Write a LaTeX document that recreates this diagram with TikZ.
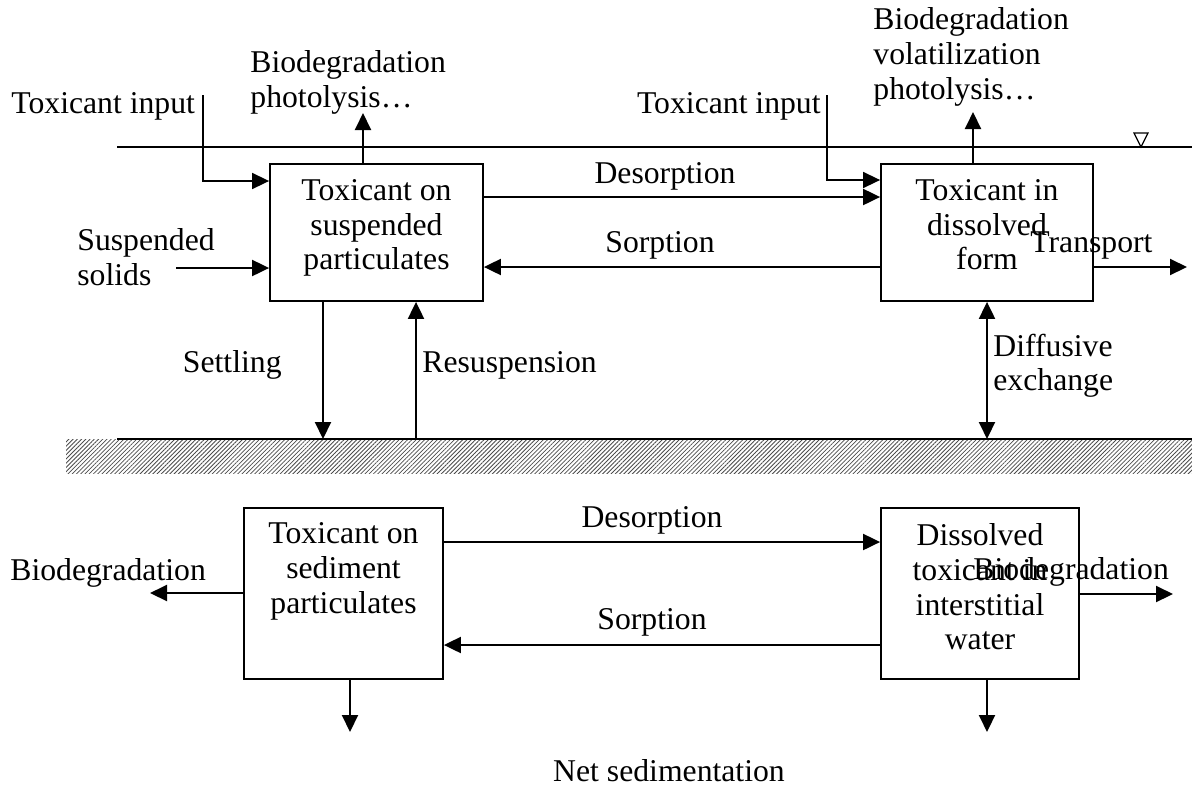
\documentclass[tikz,border=0pt]{standalone}
\usepackage{fontspec}
\setmainfont{Liberation Serif}
\usetikzlibrary{arrows.meta,patterns.meta}

\begin{document}
\begin{tikzpicture}[x=0.5pt,y=-0.5pt,
    font=\fontsize{15.85}{17.3}\selectfont,
    box/.style={draw, line width=0.9pt, inner sep=0pt},
    boxtext/.style={align=center, anchor=north, inner sep=0pt},
    lbl/.style={inner sep=0pt},
    arr/.style={line width=1pt, -{Triangle[length=8.5pt,width=8pt]}},
    feed/.style={line width=0.8pt, -{Triangle[length=8.5pt,width=8pt]}}]
    \useasboundingbox (0,0) rectangle (1192,788);

    % Water surface and sediment bed
    \draw[line width=0.6pt] (117,147) -- (1192,147);
    \draw[line width=0.6pt] (1134,133) -- (1148,133) -- (1141,147) -- cycle;
    \pattern[pattern={Lines[angle=45,distance=1.5pt,line width=0.4pt]}, pattern color=black!70] (66,439) rectangle (1192,473);
    \draw[line width=0.9pt] (117,439) -- (1192,439);
    \coordinate (bed) at (0,439);

    % Boxes in the water column
    \node[box, minimum width=106.5pt, minimum height=68.5pt] (susp) at (376.5,232.5) {};
    \node[boxtext] (susptxt) at (376.5,179.4) {Toxicant on\\suspended\\particulates};
    \node[box, minimum width=106pt, minimum height=68.5pt] (diss) at (987,232.5) {};
    \node[boxtext] (disstxt) at (987,179.4) {Toxicant in\\dissolved\\form};

    % Boxes in the sediment
    \node[box, minimum width=99.5pt, minimum height=85.5pt] (sedpart) at (343.5,593.5) {};
    \node[boxtext] (sedtxt) at (343.5,522.4) {Toxicant on\\sediment\\particulates};
    \node[box, minimum width=99pt, minimum height=85.5pt] (pore) at (980,593.5) {};
    \node[boxtext] (poretxt) at (980,523.4) {Dissolved\\toxicant in\\interstitial\\water};

    % Free ends
    \coordinate (tin1) at (203,95);
    \coordinate (tin2) at (827,95);
    \coordinate (ssin) at (176,268);
    \coordinate (up1) at (363,113);
    \coordinate (up2) at (973,112);
    \coordinate (trout) at (1187,267);
    \coordinate (bioL) at (150,593);
    \coordinate (bioR) at (1173,594);
    \coordinate (netL) at (350,732);
    \coordinate (netR) at (987,732);

    % Inputs and losses, water column
    \draw[feed] (tin1) |- (susp.west |- 0,181);
    \draw[arr] (ssin) -- (susp.west |- ssin);
    \draw[arr] (susp.north -| up1) -- (up1);
    \draw[feed] (tin2) |- (diss.west |- 0,180);
    \draw[arr] (diss.north -| up2) -- (up2);
    \draw[arr] (diss.east |- trout) -- (trout);

    % Exchange between the boxes
    \draw[arr] (susp.east |- 0,197) -- (diss.west |- 0,197);
    \draw[arr] (diss.west |- 0,267) -- (susp.east |- 0,267);
    \draw[arr] (susp.south -| 323,0) -- (bed -| 323,0);
    \draw[arr] (bed -| 416,0) -- (susp.south -| 416,0);
    \draw[line width=1pt, {Triangle[length=8.5pt,width=8pt]}-{Triangle[length=8.5pt,width=8pt]}] (diss.south) -- (diss.south |- bed);
    \draw[arr] (sedpart.east |- 0,542) -- (pore.west |- 0,542);
    \draw[arr] (pore.west |- 0,645) -- (sedpart.east |- 0,645);
    \draw[arr] (sedpart.west |- bioL) -- (bioL);
    \draw[arr] (pore.east |- bioR) -- (bioR);
    \draw[arr] (sedpart.south -| netL) -- (netL);
    \draw[arr] (pore.south -| netR) -- (netR);

    % Labels
    \node[lbl, anchor=base west] (tinlbl1) at (11,113) {Toxicant input};
    \node[lbl, anchor=base east] (tinlbl2) at (821,113) {Toxicant input};
    \node[lbl, align=left, anchor=north west] (sslbl) at (77,228.4) {Suspended\\solids};
    \node[lbl, align=left, anchor=north west] (lossL) at (250,50.4) {Biodegradation\\photolysis…};
    \node[lbl, align=left, anchor=north west] (lossR) at (873,7.4) {Biodegradation\\volatilization\\photolysis…};
    \node[lbl, anchor=base] (desTop) at (665,183) {Desorption};
    \node[lbl, anchor=base] (sorTop) at (660,252) {Sorption};
    \node[lbl, anchor=base west] (trlbl) at (1030,252) {Transport};
    \node[lbl, anchor=base east] (setlbl) at (282,372) {Settling};
    \node[lbl, anchor=base west] (reslbl) at (422,372) {Resuspension};
    \node[lbl, align=left, anchor=north west] (difflbl) at (993,333.4) {Diffusive\\exchange};
    \node[lbl, anchor=base] (desBot) at (652,527) {Desorption};
    \node[lbl, anchor=base] (sorBot) at (652,629) {Sorption};
    \node[lbl, anchor=base west] (bioLlbl) at (10,580) {Biodegradation};
    \node[lbl, anchor=base west] (bioRlbl) at (973,579) {Biodegradation};
    \node[lbl, anchor=base] (netlbl) at (669,781) {Net sedimentation};
\end{tikzpicture}
\end{document}
